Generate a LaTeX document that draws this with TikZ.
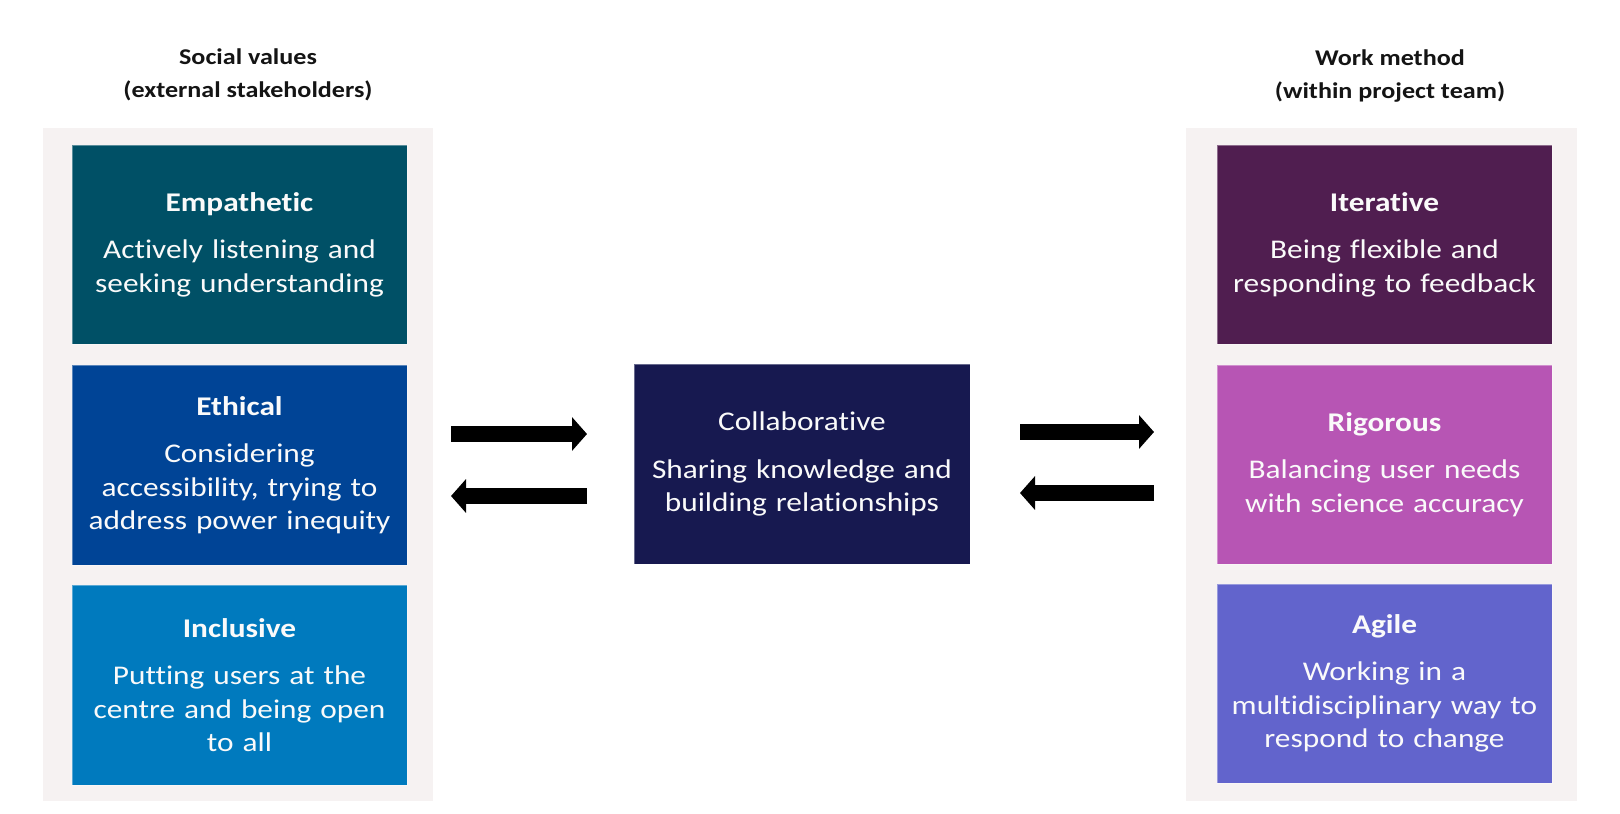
\documentclass[tikz,border=0pt]{standalone}
\usepackage{fontspec}
\setmainfont{Carlito}[FakeStretch=1.16, Ligatures=NoCommon]
\usetikzlibrary{arrows.meta}
\definecolor{cEmp}{RGB}{0,80,102}
\definecolor{cEth}{RGB}{0,68,150}
\definecolor{cInc}{RGB}{0,122,190}
\definecolor{cCol}{RGB}{23,25,80}
\definecolor{cIte}{RGB}{80,30,80}
\definecolor{cRig}{RGB}{183,85,180}
\definecolor{cAgi}{RGB}{98,100,204}
\definecolor{cPanel}{RGB}{246,242,242}
\definecolor{cHead}{RGB}{20,20,20}
\definecolor{cText}{RGB}{250,250,250}
\tikzset{
  card/.style={rectangle, minimum width=335pt, inner sep=0pt, text width=330pt,
    align=center, text=cText, draw=white, draw opacity=0.35, line width=0.8pt,
    font=\fontsize{27}{33.5}\selectfont},
  header/.style={align=center, text=cHead, font=\fontsize{22.5}{33}\selectfont\bfseries},
  panel/.style={fill=cPanel, draw=none},
  blockarrow/.style={draw=black, line width=16pt, -{Triangle[length=15pt,width=33pt]}}
}
\begin{document}
\begin{tikzpicture}[x=1pt,y=-1pt]
\useasboundingbox[fill=white] (0,0) rectangle (1620,814);
% panels
\fill[panel] (43,128) rectangle (433,801);
\fill[panel] (1186,128) rectangle (1577,801);
% headers
\node[header] (hl) at (248,74.5) {Social values\\(external stakeholders)};
\node[header] (hr) at (1390,76.5) {Work method\\(within project team)};
% left cards
\node[card, fill=cEmp, minimum height=199pt] (emp) at (239.5,244.5)
  {{\bfseries Empathetic}\\[14pt]Actively listening and\\seeking understanding};
\node[card, fill=cEth, minimum height=200pt] (eth) at (239.5,465)
  {{\bfseries Ethical}\\[14pt]Considering\\accessibility, trying to\\address power inequity};
\node[card, fill=cInc, minimum height=200pt] (inc) at (239.5,685)
  {{\bfseries Inclusive}\\[14pt]Putting users at the\\centre and being open\\to all};
% centre card
\node[card, fill=cCol, minimum width=336pt, minimum height=200pt] (col) at (802,464)
  {Collaborative\\[14pt]Sharing knowledge and\\building relationships};
% right cards
\node[card, fill=cIte, minimum height=199pt] (ite) at (1384.5,244.5)
  {{\bfseries Iterative}\\[14pt]Being flexible and\\responding to feedback};
\node[card, fill=cRig, minimum height=199pt] (rig) at (1384.5,464.5)
  {{\bfseries Rigorous}\\[14pt]Balancing user needs\\with science accuracy};
\node[card, fill=cAgi, minimum height=199pt] (agi) at (1384.5,683.5)
  {{\bfseries Agile}\\[14pt]Working in a\\multidisciplinary way to\\respond to change};
% arrow ends
\coordinate (l1a) at (451,434);
\coordinate (l1b) at (587,434);
\coordinate (l2a) at (587,496);
\coordinate (l2b) at (451,496);
\coordinate (r1a) at (1020,432);
\coordinate (r1b) at (1154,432);
\coordinate (r2a) at (1154,493);
\coordinate (r2b) at (1020,493);
\draw[blockarrow] (l1a) -- (l1b);
\draw[blockarrow] (l2a) -- (l2b);
\draw[blockarrow] (r1a) -- (r1b);
\draw[blockarrow] (r2a) -- (r2b);
\end{tikzpicture}
\end{document}
